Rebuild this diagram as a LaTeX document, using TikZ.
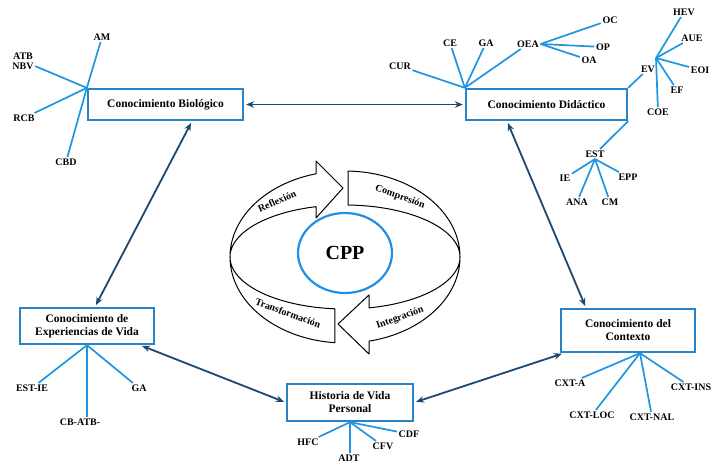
\documentclass[tikz,border=0pt]{standalone}
\usepackage{fontspec}
\setmainfont{Liberation Serif}
\usetikzlibrary{arrows.meta,calc,shapes.geometric}
\definecolor{boxblue}{RGB}{40,132,200}
\definecolor{branchblue}{RGB}{32,150,225}
\definecolor{linkdark}{RGB}{30,72,112}
\definecolor{ringblue}{RGB}{30,144,230}
\begin{document}
\begin{tikzpicture}[x=1pt,y=-1pt,
  box/.style={draw=boxblue,line width=2.3pt,fill=white,align=center,inner sep=0pt,
    font=\fontsize{11.5}{13}\selectfont\bfseries},
  lbl/.style={inner sep=1.5pt,align=center,font=\fontsize{10}{10}\selectfont\bfseries},
  branch/.style={draw=branchblue,line width=1.7pt},
  link/.style={draw=linkdark,line width=1.8pt,shorten <=2pt,shorten >=2pt,
    {Stealth[length=8pt,width=6.5pt]}-{Stealth[length=8pt,width=6.5pt]}},
  ribbon/.style={draw=black,line width=1pt,fill=white,line join=round},
  ribtext/.style={inner sep=0pt,font=\fontsize{10}{10}\selectfont\bfseries}]
\useasboundingbox[fill=white] (0,0) rectangle (711,464);

% ---- main knowledge boxes ----
\node[box,minimum width=155,minimum height=31] (bio) at (165.5,104.5) {Conocimiento Biológico};
\node[box,minimum width=161,minimum height=31] (did) at (546.5,104.5) {Conocimiento Didáctico};
\node[box,minimum width=134,minimum height=36] (exp) at (87,326) {Conocimiento de\\Experiencias de Vida};
\node[box,minimum width=126,minimum height=37] (his) at (350,402.5) {Historia de Vida\\Personal};
\node[box,minimum width=134,minimum height=43] (ctx) at (628,330.5) {Conocimiento del\\Contexto};

% ---- links between boxes ----
\draw[link] (bio.east) -- (did.west);
\draw[link] ([xshift=26.5pt]bio.south) -- ([xshift=8pt]exp.north);
\draw[link] ([xshift=-39.5pt]did.south) -- ([xshift=-42pt]ctx.north);
\draw[link] ([xshift=-15pt]exp.south east) -- (his.west);
\draw[link] (his.east) -- ([xshift=4pt]ctx.south west);

% ---- biological knowledge branches ----
\coordinate (biohub) at (bio.north west);
\node[lbl] (am) at (102,37) {AM};
\node[lbl] (atb) at (23,61) {ATB\\NBV};
\node[lbl] (rcb) at (24,118) {RCB};
\node[lbl] (cbd) at (66,162) {CBD};
\foreach \t in {am,atb,rcb,cbd} \draw[branch] (biohub) -- (\t);

% ---- didactic knowledge branches ----
\coordinate (didhub) at (did.north west);
\node[lbl] (cur) at (400,66) {CUR};
\node[lbl] (ce) at (450,43) {CE};
\node[lbl] (gadid) at (486,43) {GA};
\node[lbl] (oea) at (528,44) {OEA};
\foreach \t in {cur,ce,gadid,oea} \draw[branch] (didhub) -- (\t);
\node[lbl] (oc) at (610,20) {OC};
\node[lbl] (op) at (603,47) {OP};
\node[lbl] (oa) at (589,60) {OA};
\foreach \t in {oc,op,oa} \draw[branch] (oea.east) -- (\t);

\node[lbl] (ev) at (648,69) {EV};
\draw[branch] (did.north east) -- (ev);
\coordinate (evhub) at (656,58);
\node[lbl] (hev) at (684,12) {HEV};
\node[lbl] (aue) at (692,38) {AUE};
\node[lbl] (eoi) at (700,70) {EOI};
\node[lbl] (ef) at (677,90) {EF};
\node[lbl] (coe) at (658,112) {COE};
\foreach \t in {hev,aue,eoi,ef,coe} \draw[branch] (evhub) -- (\t);

\node[lbl] (est) at (595,154) {EST};
\draw[branch] (did.south east) -- (est);
\node[lbl] (ie) at (565,178) {IE};
\node[lbl] (ana) at (577,202) {ANA};
\node[lbl] (cm) at (610,202) {CM};
\node[lbl] (epp) at (628,177) {EPP};
\foreach \t in {ie,ana,cm,epp} \draw[branch] (est.south) -- (\t);

% ---- life experience branches ----
\node[lbl] (estie) at (32,388) {EST-IE};
\node[lbl] (cbatb) at (80,422) {CB-ATB-};
\node[lbl] (gaexp) at (139,388) {GA};
\draw[branch] (exp.south) -- (estie);
\draw[branch] (exp.south) -- (exp.south |- cbatb.north);
\draw[branch] (exp.south) -- (gaexp);

% ---- life history branches ----
\node[lbl] (hfc) at (308,442) {HFC};
\node[lbl] (adt) at (349,458) {ADT};
\node[lbl] (cfv) at (383,446) {CFV};
\node[lbl] (cdf) at (409,434) {CDF};
\draw[branch] (his.south) -- (hfc);
\draw[branch] (his.south) -- (his.south |- adt.north);
\draw[branch] (his.south) -- (cfv);
\draw[branch] (his.south) -- (cdf);

% ---- context branches ----
\coordinate (ctxhub) at ([xshift=12pt]ctx.south);
\node[lbl] (cxta) at (570,383) {CXT-A};
\node[lbl] (cxtloc) at (592,415) {CXT-LOC};
\node[lbl] (cxtnal) at (652,417) {CXT-NAL};
\node[lbl] (cxtins) at (691,387) {CXT-INS};
\foreach \t in {cxta,cxtloc,cxtnal,cxtins} \draw[branch] (ctxhub) -- (\t);

% ---- central cycle: twisted ribbon with four arrows ----
% upper-left arrow
\draw[ribbon] plot[domain=180:255.4,samples=40] ({345+115*cos(\x)},{257+86*sin(\x)})
  -- (316,161) -- (343,188) -- (316,218)
  -- plot[domain=255.4:180,samples=40] ({345+115*cos(\x)},{257+52*sin(\x)}) -- cycle;
% upper-right band
\draw[ribbon] plot[domain=271.5:360,samples=40] ({345+115*cos(\x)},{257+86*sin(\x)})
  -- plot[domain=360:271.5,samples=40] ({345+115*cos(\x)},{257+52*sin(\x)}) -- cycle;
% lower-right arrow
\draw[ribbon] plot[domain=0:77.95,samples=40] ({345+115*cos(\x)},{257+52*sin(\x)})
  -- (369,295) -- (338,324) -- (369,354)
  -- plot[domain=77.95:0,samples=40] ({345+115*cos(\x)},{257+86*sin(\x)}) -- cycle;
% lower-left band
\draw[ribbon] plot[domain=95:180,samples=40] ({345+115*cos(\x)},{257+52*sin(\x)})
  -- plot[domain=180:95,samples=40] ({345+115*cos(\x)},{257+86*sin(\x)}) -- cycle;

\node[ribtext,rotate=24] (trefl) at (277,201) {Reflexión};
\node[ribtext,rotate=-20] (tcomp) at (400,197) {Compresión};
\node[ribtext,rotate=20] (tint) at (400,318) {Integración};
\node[ribtext,rotate=-20] (ttrans) at (288,313) {Transformación};

\node[draw=ringblue,line width=2.2pt,ellipse,inner sep=0pt,minimum width=94,minimum height=80,
  font=\fontsize{20}{20}\selectfont\bfseries] (cpp) at (345,253) {CPP};
\end{tikzpicture}
\end{document}
